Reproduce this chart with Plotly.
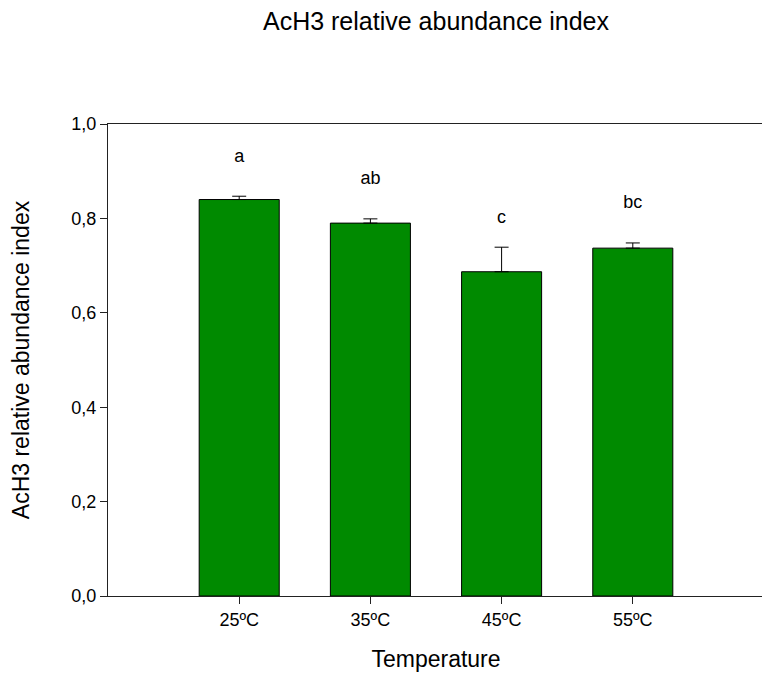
import plotly.graph_objects as go

categories = ["25ºC", "35ºC", "45ºC", "55ºC"]
values = [0.840, 0.790, 0.687, 0.737]
errors = [0.007, 0.009, 0.052, 0.011]
letters = ["a", "ab", "c", "bc"]
letter_y = [0.928, 0.882, 0.800, 0.831]

xpos = list(range(len(categories)))

fig = go.Figure()
fig.add_trace(go.Bar(
    x=xpos, y=values, width=0.61,
    marker=dict(color="#008A00", line=dict(color="black", width=1)),
    error_y=dict(type="data", array=errors, arrayminus=[0]*len(errors),
                 symmetric=False, color="black", thickness=1, width=7),
    showlegend=False,
))
fig.add_trace(go.Scatter(
    x=xpos, y=letter_y, mode="text", text=letters,
    textfont=dict(size=18, color="black", family="Liberation Sans, Arial"),
    showlegend=False,
))

fig.update_layout(
    width=770, height=678,
    margin=dict(l=100, r=14, t=116, b=90, autoexpand=False),
    paper_bgcolor="white", plot_bgcolor="white",
    separators=", ",
    font=dict(family="Liberation Sans, Arial", color="black"),
    title=dict(text="AcH3 relative abundance index", x=0.5, xref="paper",
               xanchor="center", y=0.993, yref="container", yanchor="top",
               pad=dict(t=0),
               font=dict(size=25)),
    xaxis=dict(range=[-1, 4], tickvals=xpos, ticktext=categories,
               ticks="outside", ticklen=7, tickcolor="#222",
               showline=True, linecolor="#222", linewidth=1, mirror=True,
               showgrid=False, zeroline=False, automargin=False,
               tickfont=dict(size=18),
               title=dict(text="Temperature", font=dict(size=23), standoff=22)),
    yaxis=dict(range=[0, 1.0], tickvals=[0, 0.2, 0.4, 0.6, 0.8, 1.0],
               tickformat=".1f",
               ticks="outside", ticklen=7, tickcolor="#222",
               showline=True, linecolor="#222", linewidth=1, mirror=True,
               showgrid=False, zeroline=False, automargin=False,
               tickfont=dict(size=18),
               title=dict(text="AcH3 relative abundance index", font=dict(size=23), standoff=35)),
)

fig.write_html("out.html")
